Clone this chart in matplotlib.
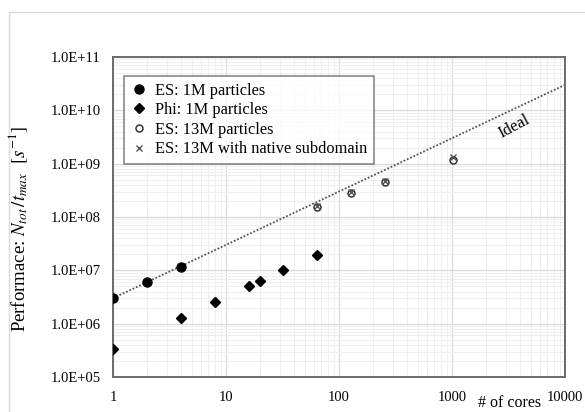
import matplotlib
matplotlib.use("Agg")
import matplotlib.pyplot as plt
from matplotlib.patches import Rectangle
from matplotlib.ticker import FuncFormatter, LogLocator, FixedLocator, NullFormatter

plt.rcParams['font.family'] = ['Liberation Serif', 'DejaVu Serif']
plt.rcParams['mathtext.fontset'] = 'stix'

# data
es1m_cores = [1, 2, 4]
es1m_perf = [3.0e6, 6.1e6, 1.15e7]

phi1m_cores = [1, 4, 8, 16, 20, 32, 64]
phi1m_perf = [3.3e5, 1.28e6, 2.5e6, 5.0e6, 6.3e6, 1.0e7, 1.95e7]

es13m_cores = [64, 128, 256, 1024]
es13m_perf = [1.55e8, 2.8e8, 4.6e8, 1.15e9]

es13m_nat_cores = [64, 128, 256, 1024]
es13m_nat_perf = [1.6e8, 2.9e8, 4.7e8, 1.35e9]

ideal_cores = [1, 10000]
ideal_perf = [3.0e6, 3.0e10]

xticks = [1, 10, 100, 1000, 10000]
yticks = [1e5, 1e6, 1e7, 1e8, 1e9, 1e10, 1e11]

fig = plt.figure(figsize=(5.85, 4.12), dpi=100)
# light outer frame (chart area, cropped at bottom/right)
fig.patches.append(Rectangle((9 / 585, -0.2), 1.2, 0.2 + 1 - 12 / 412,
                             transform=fig.transFigure, fill=False,
                             edgecolor='#d9d9d9', linewidth=1.0))

ax = fig.add_axes([113 / 585, 1 - 377 / 412, 452 / 585, 320 / 412])
ax.set_xscale('log')
ax.set_yscale('log')
ax.set_xlim(1, 10000)
ax.set_ylim(1e5, 1e11)

ax.plot(ideal_cores, ideal_perf, linestyle=(0, (1, 1)), color='#555555', linewidth=1.3, zorder=2)
ax.plot(es1m_cores, es1m_perf, 'o', color='black', markersize=6.5, label='ES: 1M particles', zorder=4)
ax.plot(phi1m_cores, phi1m_perf, 'D', color='black', markersize=5.5, label='Phi: 1M particles', zorder=4)
ax.plot(es13m_cores, es13m_perf, 'o', markerfacecolor='none', markeredgecolor='#333333',
        markersize=5, markeredgewidth=1.1, label='ES: 13M particles', zorder=4)
ax.plot(es13m_nat_cores, es13m_nat_perf, 'x', color='#555555', markersize=5,
        markeredgewidth=1.0, label='ES: 13M with native subdomain', zorder=5)

fig.text(514 / 585, 1 - 127 / 412, 'Ideal', rotation=28,
         ha='center', va='center', fontsize=12)

ax.xaxis.set_major_locator(FixedLocator(xticks))
ax.xaxis.set_major_formatter(FuncFormatter(lambda v, p: f"{int(round(v))}"))
ax.xaxis.set_minor_locator(LogLocator(base=10, subs=range(2, 10), numticks=20))
ax.yaxis.set_major_locator(FixedLocator(yticks))
ax.yaxis.set_major_formatter(FuncFormatter(lambda v, p: f"{v:.1E}"))
ax.yaxis.set_minor_locator(LogLocator(base=10, subs=range(2, 10), numticks=20))
ax.xaxis.set_minor_formatter(NullFormatter())
ax.yaxis.set_minor_formatter(NullFormatter())

ax.grid(which='major', color='#d9d9d9', linewidth=0.9)
ax.grid(which='minor', color='#efefef', linewidth=0.8)
ax.set_axisbelow(True)

ax.tick_params(which='both', length=0)
ax.tick_params(axis='x', pad=10, labelsize=10.5)
ax.tick_params(axis='y', pad=9, labelsize=10.5)
for s in ax.spines.values():
    s.set_color('#6b6b6b')
    s.set_linewidth(1.4)

fig.text(18 / 585, 1 - 229 / 412, r'Performace: $N_{tot}\,/t_{max}$  $[s^{-1}]$',
         rotation=90, ha='center', va='center', fontsize=13.5)
fig.text(510 / 585, 1 - 395 / 412, '# of cores', ha='center', va='top', fontsize=11.5)

leg = ax.legend(loc='upper left', bbox_to_anchor=(11 / 452, 1 - 19 / 320), borderaxespad=0,
                fontsize=11.8, frameon=True, fancybox=False, handlelength=1.0,
                handletextpad=0.5, labelspacing=0.22, borderpad=0.4)
leg.get_frame().set_edgecolor('#6b6b6b')
leg.get_frame().set_linewidth(1.2)

fig.savefig('out.png', dpi=100)
